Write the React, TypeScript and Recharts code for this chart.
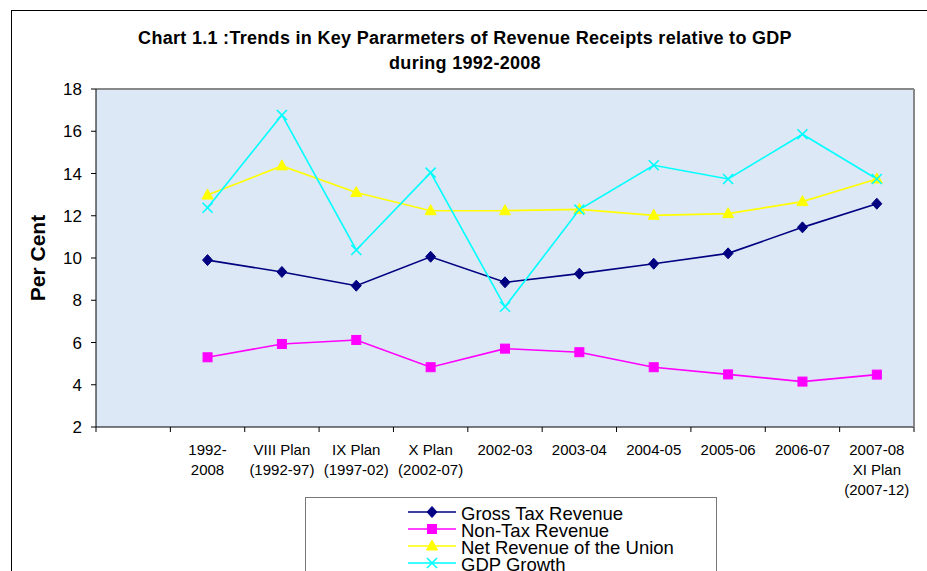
import { CartesianGrid, Legend, Line, LineChart, ReferenceLine, XAxis, YAxis } from 'recharts'

const categories = [
  '',
  '1992-\n2008',
  'VIII Plan\n(1992-97)',
  'IX Plan\n(1997-02)',
  'X Plan\n(2002-07)',
  '2002-03',
  '2003-04',
  '2004-05',
  '2005-06',
  '2006-07',
  '2007-08\nXI Plan\n(2007-12)',
]
const grossTax = [null, 9.9, 9.34, 8.69, 10.06, 8.85, 9.26, 9.73, 10.22, 11.45, 12.57]
const nonTax = [null, 5.3, 5.93, 6.12, 4.83, 5.71, 5.54, 4.83, 4.49, 4.15, 4.48]
const netRevenue = [null, 12.98, 14.36, 13.1, 12.24, 12.24, 12.3, 12.02, 12.1, 12.67, 13.74]
const gdpGrowth = [null, 12.38, 16.77, 10.38, 14.04, 7.69, 12.29, 14.39, 13.74, 15.86, 13.74]
const yTicks = [2, 4, 6, 8, 10, 12, 14, 16, 18]

const data = categories.map((category, i) => ({
  category,
  grossTax: grossTax[i],
  nonTax: nonTax[i],
  netRevenue: netRevenue[i],
  gdpGrowth: gdpGrowth[i],
}))

const FONT = '"Liberation Sans", Arial, sans-serif'
const PLOT_W = 818
const BAND = PLOT_W / categories.length

type Shape = 'diamond' | 'square' | 'triangle' | 'cross'

function Marker({ shape, cx, cy, color }: { shape: Shape; cx: number; cy: number; color: string }) {
  if (shape === 'diamond') {
    return <polygon points={`${cx},${cy - 5.5} ${cx + 5},${cy} ${cx},${cy + 5.5} ${cx - 5},${cy}`} fill={color} stroke={color} />
  }
  if (shape === 'square') {
    return <rect x={cx - 4.5} y={cy - 4.5} width={9} height={9} fill={color} stroke={color} />
  }
  if (shape === 'triangle') {
    return <polygon points={`${cx},${cy - 6} ${cx + 5.5},${cy + 4} ${cx - 5.5},${cy + 4}`} fill={color} stroke={color} />
  }
  return (
    <g stroke={color} strokeWidth={1.6}>
      <line x1={cx - 5} y1={cy - 5} x2={cx + 5} y2={cy + 5} />
      <line x1={cx - 5} y1={cy + 5} x2={cx + 5} y2={cy - 5} />
    </g>
  )
}

const series: { key: string; name: string; color: string; shape: Shape }[] = [
  { key: 'grossTax', name: 'Gross Tax Revenue', color: '#000080', shape: 'diamond' },
  { key: 'nonTax', name: 'Non-Tax Revenue', color: '#FF00FF', shape: 'square' },
  { key: 'netRevenue', name: 'Net Revenue of the Union', color: '#FFFF00', shape: 'triangle' },
  { key: 'gdpGrowth', name: 'GDP Growth', color: '#00FFFF', shape: 'cross' },
]

function makeDot(shape: Shape, color: string) {
  return (props: any) => {
    const { cx, cy, index } = props
    if (cx == null || cy == null || props.value == null) return <g key={index} />
    return <Marker key={index} shape={shape} cx={cx} cy={cy} color={color} />
  }
}

function CategoryTick(props: any) {
  const { x, y, payload, index } = props
  const lines = String(payload.value).split('\n').filter((l) => l.length > 0)
  const left = x - BAND / 2
  return (
    <g>
      <line x1={left} y1={y} x2={left} y2={y + 5} stroke="#000" />
      {index === categories.length - 1 && <line x1={x + BAND / 2} y1={y} x2={x + BAND / 2} y2={y + 5} stroke="#000" />}
      <text x={x} y={y + 28} textAnchor="middle" fontFamily={FONT} fontSize={15} fill="#000">
        {lines.map((line, i) => (
          <tspan key={i} x={x} dy={i === 0 ? 0 : 20}>
            {line}
          </tspan>
        ))}
      </text>
    </g>
  )
}

function LegendBox() {
  return (
    <div style={{ width: 412, height: 90, border: '1px solid #777', background: '#fff', boxSizing: 'border-box' }}>
      <svg width={412} height={90}>
        {series.map((s, i) => {
          const cy = 14 + i * 17
          return (
            <g key={s.key}>
              <line x1={102} y1={cy} x2={150} y2={cy} stroke={s.color} strokeWidth={1.6} />
              <Marker shape={s.shape} cx={126} cy={cy} color={s.color} />
              <text x={155} y={cy + 1} dominantBaseline="central" fontFamily={FONT} fontSize={18.5} fill="#000">
                {s.name}
              </text>
            </g>
          )
        })}
      </svg>
    </div>
  )
}

export default function App() {
  return (
    <div style={{ position: 'absolute', left: 0, top: 0, width: 927, height: 571, overflow: 'hidden', background: '#fff' }}>
      <div style={{ position: 'absolute', left: 11, top: 10, width: 940, height: 600, borderTop: '1px solid #000', borderLeft: '1px solid #000' }} />
      <div
        style={{
          position: 'absolute',
          left: 0,
          top: 26,
          width: 930,
          textAlign: 'center',
          fontFamily: FONT,
          fontWeight: 'bold',
          fontSize: 18,
          letterSpacing: 0.3,
          lineHeight: '25px',
          color: '#000',
        }}
      >
        Chart 1.1 :Trends in Key Pararmeters of Revenue Receipts relative to GDP
        <br />
        during 1992-2008
      </div>
      <div style={{ position: 'absolute', left: 0, top: 0 }}>
        <LineChart width={927} height={571} data={data} margin={{ top: 89, right: 12, left: 0, bottom: 0 }}>
          <CartesianGrid
            horizontal
            vertical={false}
            fill="#dce8f6"
            stroke="#222"
            horizontalValues={[4, 6, 8, 10, 12, 14, 16]}
          />
          <XAxis
            dataKey="category"
            scale="band"
            interval={0}
            height={144}
            tickLine={false}
            tickSize={0}
            tickMargin={0}
            axisLine={{ stroke: '#000' }}
            tick={<CategoryTick />}
          />
          <YAxis
            yAxisId="left"
            width={96}
            domain={[2, 18]}
            ticks={yTicks}
            interval={0}
            tickSize={5}
            tickMargin={9}
            axisLine={{ stroke: '#000' }}
            tickLine={{ stroke: '#000' }}
            tick={{ fontFamily: FONT, fontSize: 17, fill: '#000' }}
            label={() => (
              <text
                x={37}
                y={258}
                transform="rotate(-90 37 258)"
                textAnchor="middle"
                dominantBaseline="central"
                fontFamily={FONT}
                fontWeight="bold"
                fontSize={21}
                fill="#000"
              >
                Per Cent
              </text>
            )}
          />
          <YAxis yAxisId="right" orientation="right" width={1} domain={[2, 18]} ticks={yTicks} tick={false} tickLine={false} axisLine={{ stroke: '#888', strokeWidth: 2 }} />
          <ReferenceLine yAxisId="left" y={18} stroke="#888" strokeWidth={2} />
          <Legend layout="horizontal" verticalAlign="middle" align="center" wrapperStyle={{ left: 305, top: 497, width: 412, height: 90 }} content={() => <LegendBox />} />
          {series.map((s) => (
            <Line
              key={s.key}
              yAxisId="left"
              type="linear"
              dataKey={s.key}
              name={s.name}
              stroke={s.color}
              strokeWidth={1.6}
              dot={makeDot(s.shape, s.color)}
              activeDot={false}
              isAnimationActive={false}
            />
          ))}
        </LineChart>
      </div>
    </div>
  )
}
